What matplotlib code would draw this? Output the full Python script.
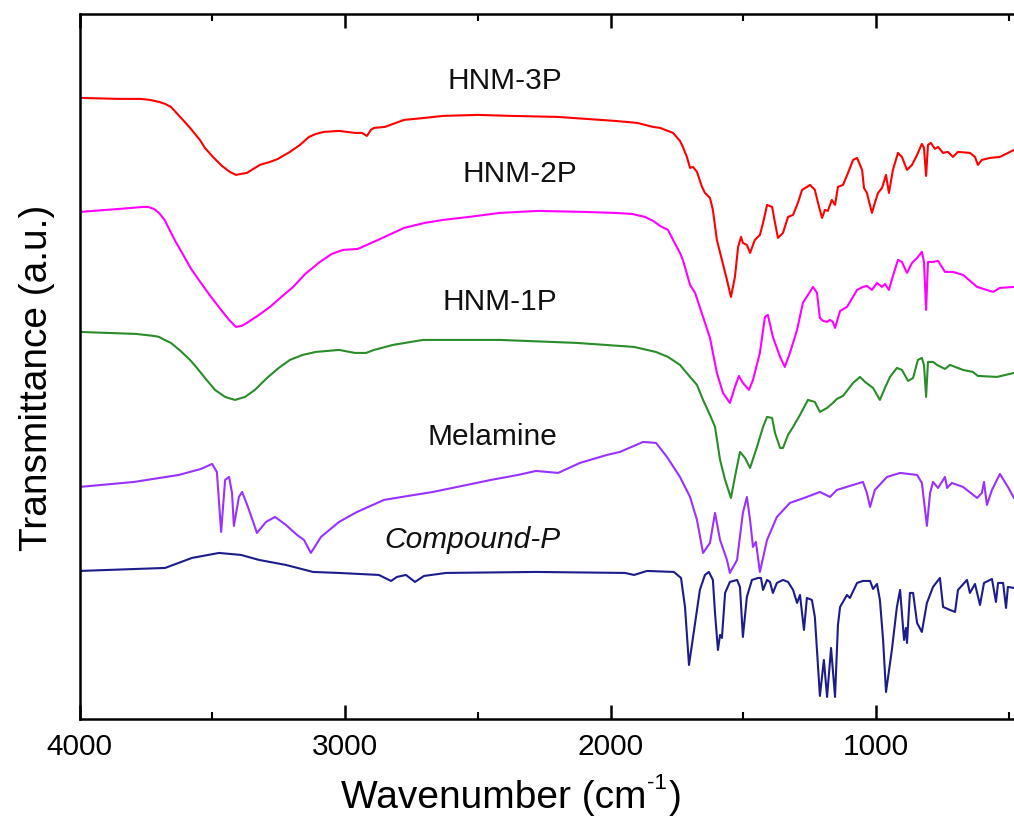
import matplotlib
matplotlib.use("Agg")
import matplotlib.pyplot as plt
from matplotlib.ticker import MultipleLocator

# ---- data: wavenumber (cm^-1) and transmittance (a.u., offset curves) ----
hnm3p_wn = [4000, 3850, 3770, 3735, 3701, 3678, 3656, 3611, 3584, 3547, 3528, 3498, 3464, 3434, 3411, 3392, 3370,
            3321, 3283, 3253, 3208, 3170, 3136, 3110, 3080, 3023, 2963, 2937, 2918, 2903, 2891, 2850,
            2778, 2700, 2631, 2500, 2375, 2200, 1984, 1900, 1841, 1814, 1765, 1739, 1728, 1713, 1701, 1690, 1675, 1656, 1645,
            1626, 1615, 1600, 1581, 1562, 1547, 1532, 1520, 1509, 1502, 1487, 1475, 1457, 1438, 1426,
            1411, 1392, 1381, 1370, 1351, 1332, 1313, 1295, 1279, 1249, 1231, 1219, 1204, 1193, 1182,
            1167, 1155, 1144, 1125, 1106, 1087, 1072, 1053, 1046, 1035, 1016, 1005, 993, 978, 963,
            952, 937, 918, 903, 884, 865, 846, 828, 820, 812, 805, 794, 779, 767, 748, 730, 711, 692,
            647, 628, 617, 602, 571, 534, 496, 481]
hnm3p_t = [621, 620, 620, 619, 617, 615, 612, 599, 591, 579, 571, 562, 553, 547, 544, 545, 546,
           554, 557, 560, 567, 574, 582, 585, 587, 588, 586, 586, 583, 589, 591, 592,
           599, 601, 603, 604, 603, 602, 598, 596, 592, 591, 586, 578, 572, 562, 551, 552, 547, 532, 526,
           521, 509, 479, 459, 439, 422, 442, 472, 482, 476, 474, 466, 479, 484, 496,
           514, 512, 496, 481, 486, 502, 504, 516, 529, 534, 529, 516, 501, 509, 508,
           519, 514, 532, 534, 546, 559, 561, 549, 531, 526, 506, 516, 526, 531, 544,
           526, 549, 566, 562, 549, 554, 564, 575, 571, 543, 574, 576, 570, 572, 566, 567, 562, 567,
           566, 562, 554, 559, 561, 562, 567, 569]

hnm2p_wn = [4000, 3850, 3760, 3742, 3720, 3701, 3680, 3663, 3640, 3614, 3580, 3543, 3505, 3467, 3437, 3411, 3390, 3370, 3330, 3283, 3240, 3196, 3150, 3095, 3050, 3008, 2952,
            2876, 2778, 2700, 2631, 2533, 2417, 2274, 2100, 1984, 1920, 1871, 1840, 1814, 1784, 1765, 1739, 1728, 1701, 1682,
            1652, 1626, 1600, 1577, 1551, 1532, 1517, 1502, 1479, 1464, 1438, 1419, 1408, 1389, 1362,
            1344, 1325, 1298, 1276, 1238, 1223, 1212, 1200, 1185, 1174, 1163, 1155, 1136, 1110, 1072,
            1050, 1035, 1016, 997, 978, 967, 952, 937, 918, 903, 884, 865, 846, 828, 820, 812, 805,
            786, 767, 741, 711, 673, 620, 560, 534, 481]
hnm2p_t = [507, 510, 512, 512, 510, 506, 499, 490, 478, 466, 450, 436, 422, 409, 399, 392, 393, 396, 403, 412, 422, 432, 445, 457, 465, 469, 470,
           479, 491, 496, 499, 502, 506, 508, 507, 506, 505, 502, 498, 493, 489, 479, 466, 459, 434, 426,
           402, 381, 346, 326, 316, 332, 343, 336, 329, 339, 366, 402, 404, 382, 362,
           352, 366, 389, 416, 432, 426, 401, 398, 397, 399, 397, 391, 408, 412, 429,
           432, 433, 429, 436, 432, 435, 429, 443, 459, 457, 446, 456, 461, 467, 457, 409, 457,
           457, 458, 447, 447, 444, 432, 427, 431, 432]

hnm1p_wn = [4000, 3788, 3720, 3701, 3680, 3656, 3620, 3584, 3555, 3528, 3490, 3452, 3415, 3377, 3340, 3294, 3250, 3208, 3160, 3110, 3023,
            2963, 2921, 2891, 2820, 2707, 2417, 2127, 1912, 1830, 1784, 1739, 1701, 1675, 1652, 1626, 1607,
            1588, 1569, 1547, 1532, 1513, 1494, 1475, 1449, 1426, 1411, 1392, 1381, 1362, 1351, 1332,
            1313, 1287, 1257, 1231, 1212, 1185, 1163, 1148, 1125, 1087, 1061, 1042, 1012, 986, 967,
            948, 922, 903, 880, 861, 843, 828, 820, 812, 805, 786, 771, 741, 722, 673, 636, 617, 545, 481]
hnm1p_t = [387, 385, 383, 382, 379, 376, 368, 359, 350, 341, 329, 322, 319, 322, 329, 341, 351, 359, 364, 367, 369,
           366, 366, 369, 374, 379, 379, 376, 372, 367, 362, 354, 342, 334, 319, 304, 292,
           259, 239, 221, 242, 267, 261, 251, 272, 292, 302, 301, 286, 271, 271, 284,
           292, 304, 319, 317, 307, 311, 316, 320, 323, 336, 342, 337, 331, 319, 331,
           342, 351, 349, 338, 341, 359, 361, 354, 322, 357, 357, 354, 350, 354, 349, 347, 343, 342, 346]

melamine_wn = [4000, 3795, 3626, 3543, 3501, 3483, 3467, 3452, 3437, 3426, 3419, 3400, 3388, 3366, 3332,
               3298, 3264, 3223, 3181, 3155, 3129, 3091, 3023, 2955, 2854, 2786, 2669, 2451, 2349, 2281,
               2198, 2116, 2014, 1965, 1878, 1829, 1788, 1739, 1701, 1675, 1652, 1626, 1607, 1588, 1562,
               1551, 1524, 1502, 1487, 1475, 1464, 1453, 1438, 1411, 1374, 1325, 1261, 1212, 1174, 1148,
               1087, 1050, 1035, 1023, 1005, 959, 910, 846, 828, 816, 809, 797, 786, 767, 748, 741,
               733, 715, 673, 620, 602, 594, 583, 564, 534, 504, 481]
melamine_t = [232, 237, 244, 250, 255, 247, 187, 239, 242, 226, 193, 222, 227, 212, 186,
              197, 202, 194, 184, 179, 166, 182, 197, 207, 219, 222, 227, 239, 244, 248,
              246, 256, 264, 267, 277, 276, 262, 242, 222, 199, 166, 176, 206, 179, 159,
              146, 159, 206, 222, 199, 172, 177, 147, 179, 202, 216, 222, 227, 222, 229,
              234, 237, 226, 212, 229, 242, 246, 244, 236, 209, 193, 226, 237, 231, 239, 242,
              231, 236, 232, 221, 226, 237, 214, 229, 245, 232, 221]

compound_wn = [4000, 3678, 3577, 3475, 3392, 3324, 3223, 3121, 3023, 2873, 2827, 2805, 2771, 2737, 2703,
               2620, 2281, 1946, 1912, 1863, 1762, 1735, 1720, 1705, 1682, 1664, 1645, 1630, 1615, 1607,
               1596, 1588, 1581, 1569, 1551, 1524, 1513, 1502, 1487, 1468, 1445, 1434, 1426, 1411, 1400,
               1389, 1374, 1351, 1332, 1313, 1298, 1287, 1272, 1261, 1242, 1231, 1212, 1197, 1185, 1170,
               1155, 1144, 1136, 1110, 1099, 1072, 1050, 1023, 1012, 997, 986, 974, 963, 941, 922,
               910, 899, 895, 888, 884, 873, 861, 846, 828, 809, 786, 760, 748, 722, 703, 692,
               658, 647, 628, 609, 594, 564, 549, 541, 522, 511, 504, 481]
compound_t = [148, 151, 161, 166, 164, 159, 154, 147, 146, 144, 138, 142, 144, 137, 143,
              146, 147, 146, 144, 148, 147, 141, 112, 54, 96, 129, 144, 147, 139, 106,
              69, 84, 81, 126, 137, 139, 132, 82, 122, 139, 141, 141, 129, 139, 137,
              126, 136, 139, 137, 129, 116, 124, 89, 121, 119, 102, 23, 59, 22, 71,
              22, 94, 112, 124, 121, 136, 138, 138, 130, 135, 119, 79, 27, 69, 112,
              129, 92, 79, 91, 76, 126, 126, 96, 87, 116, 132, 141, 112, 109, 107, 129,
              139, 126, 135, 114, 136, 140, 117, 136, 136, 111, 132, 131]

series = [
    ("HNM-3P", hnm3p_wn, hnm3p_t, "#FF0000"),
    ("HNM-2P", hnm2p_wn, hnm2p_t, "#FF00FF"),
    ("HNM-1P", hnm1p_wn, hnm1p_t, "#2A8C2A"),
    ("Melamine", melamine_wn, melamine_t, "#9932FF"),
    ("Compound-P", compound_wn, compound_t, "#1C1C8C"),
]

labels = [("HNM-3P", 2398, 638, "normal"),
          ("HNM-2P", 2342, 545, "normal"),
          ("HNM-1P", 2417, 417, "normal"),
          ("Melamine", 2447, 282, "normal"),
          ("Compound-P", 2522, 179, "italic")]

plt.rcParams['font.family'] = ['Liberation Sans', 'DejaVu Sans']

W, H = 1014, 817
fig = plt.figure(figsize=(W / 100, H / 100), dpi=100)
ax = fig.add_axes([0.0785, 0.12, 0.9215, 0.863])

for name, wn, t, c in series:
    ax.plot(wn, t, color=c, lw=1.5, solid_joinstyle='round')

for text, xw, yt, style in labels:
    ax.text(xw, yt, text, fontsize=21.5, ha='center', va='center', style=style, color='#111111')

ax.set_xlim(4000, 481)
ax.set_ylim(0, 705)
ax.set_yticks([])
ax.xaxis.set_major_locator(MultipleLocator(1000))
ax.xaxis.set_minor_locator(MultipleLocator(500))
ax.tick_params(axis='x', which='major', direction='in', length=10, width=1.8,
               top=True, labelsize=21.5, pad=10)
ax.tick_params(axis='x', which='minor', direction='in', length=5, width=1.5, top=True)
for s in ['left', 'bottom', 'top']:
    ax.spines[s].set_linewidth(1.8)
ax.spines['right'].set_visible(False)

ax.set_ylabel('Transmittance (a.u.)', fontsize=28)
ax.yaxis.set_label_coords(-0.026, 0.484)

# x label composed so the superscript keeps a plain hyphen
renderer = fig.canvas.get_renderer()
base_y = 1 - 808 / H
t1 = fig.text(341 / W, base_y, 'Wavenumber (cm', fontsize=28, ha='left', va='baseline')
bb1 = t1.get_window_extent(renderer)
t2 = fig.text((bb1.x1 + 1) / W, 1 - 789 / H, '-1', fontsize=16, ha='left', va='baseline')
bb2 = t2.get_window_extent(renderer)
fig.text((bb2.x1 + 1) / W, base_y, ')', fontsize=28, ha='left', va='baseline')

fig.savefig('out.png', dpi=100)
